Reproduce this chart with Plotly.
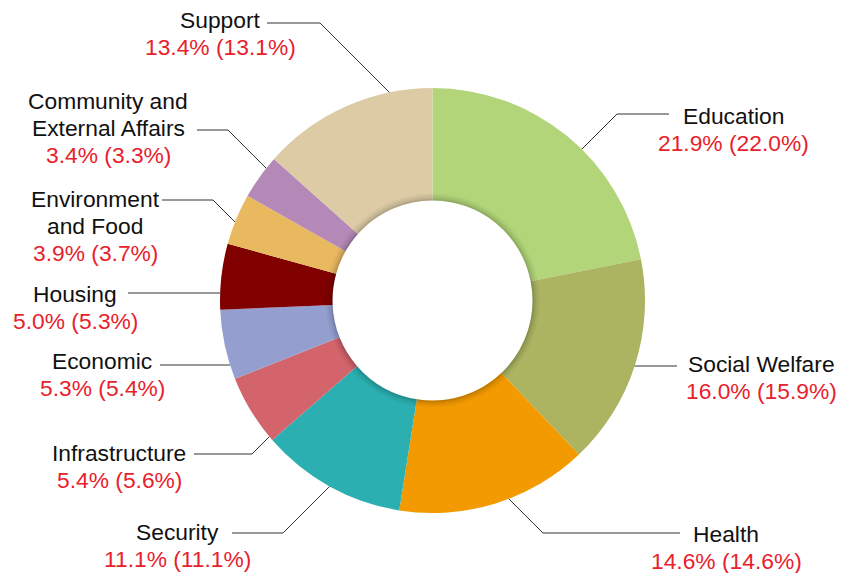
import math
import plotly.graph_objects as go

# ---------------- data ----------------
categories = ["Education", "Social Welfare", "Health", "Security", "Infrastructure",
              "Economic", "Housing", "Environment and Food",
              "Community and External Affairs", "Support"]
share = [21.9, 16.0, 14.6, 11.1, 5.4, 5.3, 5.0, 3.9, 3.4, 13.4]
previous = [22.0, 15.9, 14.6, 11.1, 5.6, 5.4, 5.3, 3.7, 3.3, 13.1]
name_lines = [["Education"], ["Social Welfare"], ["Health"], ["Security"],
              ["Infrastructure"], ["Economic"], ["Housing"],
              ["Environment", "and Food"], ["Community and", "External Affairs"],
              ["Support"]]

# ---------------- styles / layout ----------------
colors = ["#b2d57a", "#acb462", "#f29a00", "#2bafb0", "#d3646c",
          "#949fd0", "#800000", "#e9b960", "#b489b7", "#dccba5"]
PAGE_W, PAGE_H = 845, 573
OFF = 8  # page body margin offset
W, H = PAGE_W - OFF, PAGE_H - OFF
CX, CY, R, RH = 432.5, 300.5, 212.5, 100.0
FONT = "Liberation Sans, Arial, sans-serif"
FS = 22.8
LINE_GAP = 27
# label layout (page pixels): text centre x, first text line y, connector y, elbow x, connector end x
text_cx = [733, 761, 726, 177, 119, 102, 75, 95, 108, 220]
text_y0 = [116, 364, 534, 532, 453, 361, 294, 199, 101, 20]
conn_y = [114, 366, 533, 533, 454, 365, 293, 200, 130, 23]
elbow_x = [617, None, 543, 283, 252, None, None, 213, 228, 320]
end_x = [669, 677, 680, 232, 194, 160, 128, 162, 197, 267]


def px(x):
    return (x - OFF) / W


def py(y):
    return 1 - (y - OFF) / H


def domain(r, dy=0.0):
    return dict(x=[px(CX - r), px(CX + r)], y=[py(CY + dy + r), py(CY + dy - r)])


fig = go.Figure()

# main donut
fig.add_trace(go.Pie(labels=categories, values=share, sort=False, direction="clockwise",
                     rotation=0, hole=RH / R, domain=domain(R),
                     marker=dict(colors=colors, line=dict(width=0)),
                     textinfo="none", hoverinfo="label+value", showlegend=False))

# inset shadow near the hole
for k, a in [(7, 0.035), (5, 0.045), (3, 0.06), (1.5, 0.07)]:
    fig.add_trace(go.Pie(values=[1], marker=dict(colors=[f"rgba(0,0,0,{a})"], line=dict(width=0)),
                         domain=domain(RH + k), hole=RH / (RH + k), sort=False,
                         textinfo="none", hoverinfo="skip", showlegend=False))

total = sum(share)
shapes = []
annotations = []
cum = 0.0
for i, v in enumerate(share):
    mid = (cum + v / 2) / total * 360.0
    cum += v
    side = 1 if mid < 180 else -1
    y = conn_y[i]
    if elbow_x[i] is None:
        tx = CX + side * math.sqrt(max(R * R - (y - CY) ** 2, 0))
        path = f"M {px(end_x[i])} {py(y)} L {px(tx)} {py(y)}"
    else:
        bx = elbow_x[i]
        dx = -side
        dyv = 1 if CY > y else -1
        ax, ay = bx - CX, y - CY
        A = 2.0
        B = 2 * (ax * dx + ay * dyv)
        C = ax * ax + ay * ay - R * R
        t = (-B - math.sqrt(max(B * B - 4 * A * C, 0))) / (2 * A)
        tx, ty = bx + dx * t, y + dyv * t
        path = (f"M {px(end_x[i])} {py(y)} L {px(bx)} {py(y)} "
                f"L {px(tx)} {py(ty)}")
    shapes.append(dict(type="path", path=path, xref="paper", yref="paper",
                       line=dict(color="#333333", width=1), layer="above"))

    lines = [(t, "#111111") for t in name_lines[i]]
    lines.append((f"{share[i]:.1f}% ({previous[i]:.1f}%)", "#e8212c"))
    for j, (txt, col) in enumerate(lines):
        annotations.append(dict(x=px(text_cx[i]), y=py(text_y0[i] + j * LINE_GAP),
                                xref="paper", yref="paper", text=txt, showarrow=False,
                                xanchor="center", yanchor="middle",
                                font=dict(family=FONT, size=FS, color=col)))

fig.update_layout(width=W, height=H, margin=dict(l=0, r=0, t=0, b=0),
                  paper_bgcolor="white", plot_bgcolor="white",
                  shapes=shapes, annotations=annotations, showlegend=False)
fig.write_html("out.html",
               post_script="document.documentElement.style.overflow='hidden';"
                           "document.body.style.overflow='hidden';")
